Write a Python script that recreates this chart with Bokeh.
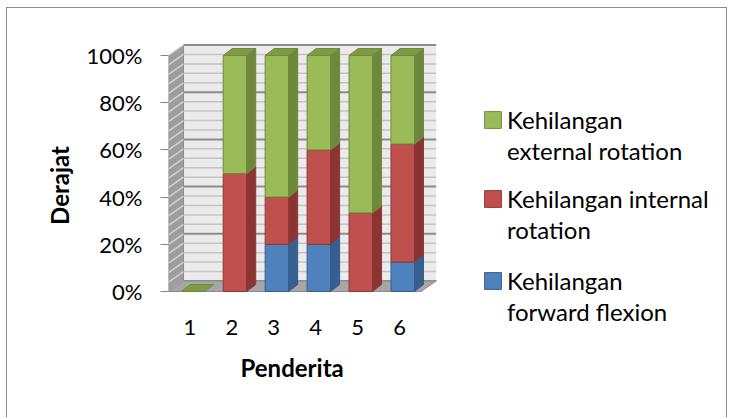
import numpy as np
from bokeh.plotting import figure
from bokeh.models import Range1d, FixedTicker, Legend, LegendItem, Title
from bokeh.core.properties import value
from bokeh.embed import file_html
from bokeh.resources import INLINE

# ---------------- data ----------------
categories = ["1", "2", "3", "4", "5", "6"]
forward_flexion = [0, 0, 20, 20, 0, 12.5]
internal_rotation = [0, 50, 20, 40, 33.3, 50]
external_rotation = [0, 50, 60, 40, 66.7, 37.5]
legend_lines = [
    ("Kehilangan", "external rotation"),
    ("Kehilangan internal", "rotation"),
    ("Kehilangan", "forward flexion"),
]
y_ticks = [0, 20, 40, 60, 80, 100]
y_tick_labels = ["0%", "20%", "40%", "60%", "80%", "100%"]
minor_step = 4
x_title = "Penderita"
y_title = "Derajat"

# ---------------- style / geometry ----------------
FONT = "Lato"
FS = "22px"
FS_TITLE = "24px"
FS_LEG = "24px"
BW = 0.56               # bar width (category units)
DX, DY = 0.215, 2.96    # bar depth offset
WDX, WDY = 0.358, 4.45  # wall depth offset
X0 = 0.416              # floor front-left (= frame left)
XFR = 6.44              # floor front-right
LABEL_SHIFT = -0.075    # category labels sit slightly left of bar centres

x = np.arange(1, len(categories) + 1, dtype=float)

p = figure(width=721, height=410,
           x_range=Range1d(X0, 13.718), y_range=Range1d(-16.53, 106.36),
           output_backend="svg", toolbar_location=None,
           min_border_left=161, min_border_right=2,
           min_border_top=32, min_border_bottom=88)
p.outline_line_color = None
p.xgrid.visible = False
p.ygrid.visible = False
p.styles = {"margin-left": "6px", "margin-top": "7px",
            "border-top": "1px solid #8c8c8c", "border-left": "1px solid #8c8c8c",
            "border-right": "1px solid #8c8c8c"}

# ---- walls & floor ----
levels = np.arange(0, 100 + minor_step, minor_step, dtype=float)
major = np.isin(levels, y_ticks)
p.quad(left=[X0 + WDX], right=[XFR + WDX], bottom=[WDY], top=[100 + WDY],
       fill_color="#ebebeb", line_color=None)
mn = levels[~major]
p.segment(x0=np.full(len(mn), X0 + WDX), y0=mn + WDY, x1=np.full(len(mn), XFR + WDX), y1=mn + WDY,
          line_color="#c4c4c4", line_width=1.5)
mj = levels[major]
p.segment(x0=np.full(len(mj), X0 + WDX), y0=mj + WDY, x1=np.full(len(mj), XFR + WDX), y1=mj + WDY,
          line_color="#8c8c8c", line_width=2)
p.patch(x=[X0, X0 + WDX, X0 + WDX, X0], y=[0, WDY, 100 + WDY, 100],
        fill_color="#9d9d9d", line_color="#8c8c8c")
p.segment(x0=np.full(len(levels), X0), y0=levels, x1=np.full(len(levels), X0 + WDX), y1=levels + WDY,
          line_color="#d2d2d2", line_width=1.5)
p.patch(x=[X0, XFR, XFR + WDX, X0 + WDX], y=[0, 0, WDY, WDY],
        fill_color="#a6a6a6", line_color="#8c8c8c")

# ---- 3D stacked bars ----
series = [
    (forward_flexion, "#4f81bd", "#365f91", "#385d8a"),
    (internal_rotation, "#c0504d", "#8b3431", "#8c3836"),
    (external_rotation, "#9bbb59", "#6d883a", "#71893f"),
]
base = np.zeros(len(categories))
front_renderers = []
for vals, front, side, edge in series:
    v = np.array(vals, dtype=float)
    top = base + v
    m = v > 0
    r = p.quad(left=x[m] - BW / 2, right=x[m] + BW / 2, bottom=base[m], top=top[m],
               fill_color=front, line_color=edge, line_width=1)
    front_renderers.append(r)
    xs = [[xr, xr + DX, xr + DX, xr] for xr in (x[m] + BW / 2)]
    ys = [[b, b + DY, t + DY, t] for b, t in zip(base[m], top[m])]
    p.patches(xs=xs, ys=ys, fill_color=side, line_color=edge, line_width=1)
    base = top
txs = [[xc - BW / 2, xc + BW / 2, xc + BW / 2 + DX, xc - BW / 2 + DX] for xc in x]
tys = [[t, t, t + DY, t + DY] for t in base]
p.patches(xs=txs, ys=tys, fill_color="#7d9b45", line_color="#71893f", line_width=1)

# ---- axes ----
yax = p.yaxis[0]
yax.ticker = FixedTicker(ticks=y_ticks)
yax.major_label_overrides = {t: l for t, l in zip(y_ticks, y_tick_labels)}
yax.bounds = (-10, 100)
yax.major_tick_out = 8
yax.major_tick_in = 0
yax.minor_tick_line_color = None
yax.axis_line_color = None
yax.major_tick_line_color = "#868686"
yax.major_label_standoff = 18
yax.axis_label = y_title
yax.axis_label_standoff = 10
yax.axis_label_text_font = FONT
yax.axis_label_text_font_size = FS_TITLE
yax.axis_label_text_font_style = "bold"
yax.axis_label_text_color = "black"

xax = p.xaxis[0]
xticks = [float(t) + LABEL_SHIFT for t in x]
xax.ticker = FixedTicker(ticks=xticks)
xax.major_label_overrides = {t: c for t, c in zip(xticks, categories)}
xax.major_tick_out = 0
xax.major_tick_in = 0
xax.major_tick_line_color = None
xax.minor_tick_line_color = None
xax.axis_line_color = None
xax.major_label_standoff = -11

for ax in (xax, yax):
    ax.major_label_text_font = FONT
    ax.major_label_text_font_size = FS
    ax.major_label_text_color = "black"

p.add_layout(Title(text=x_title, align="left", offset=72, text_font=FONT,
                   text_font_size=FS_TITLE, text_font_style="bold",
                   text_color="black", standoff=27), "below")

# ---- legends (one per series, two text lines each) ----
order = [2, 1, 0]
locs = [(314, 165), (314, 86), (314, 4)]
for (l1, l2), si, loc in zip(legend_lines, order, locs):
    leg = Legend(items=[LegendItem(label=value(l1), renderers=[front_renderers[si]]),
                        LegendItem(label=value(l2), renderers=[])],
                 location=loc, padding=0, margin=0, border_line_color=None,
                 background_fill_alpha=0, glyph_width=21, glyph_height=21,
                 label_height=21, label_standoff=4, spacing=2,
                 label_text_font=FONT, label_text_font_size=FS_LEG, label_text_color="black")
    p.add_layout(leg, "center")

open("out.html", "w").write(file_html(p, INLINE))
